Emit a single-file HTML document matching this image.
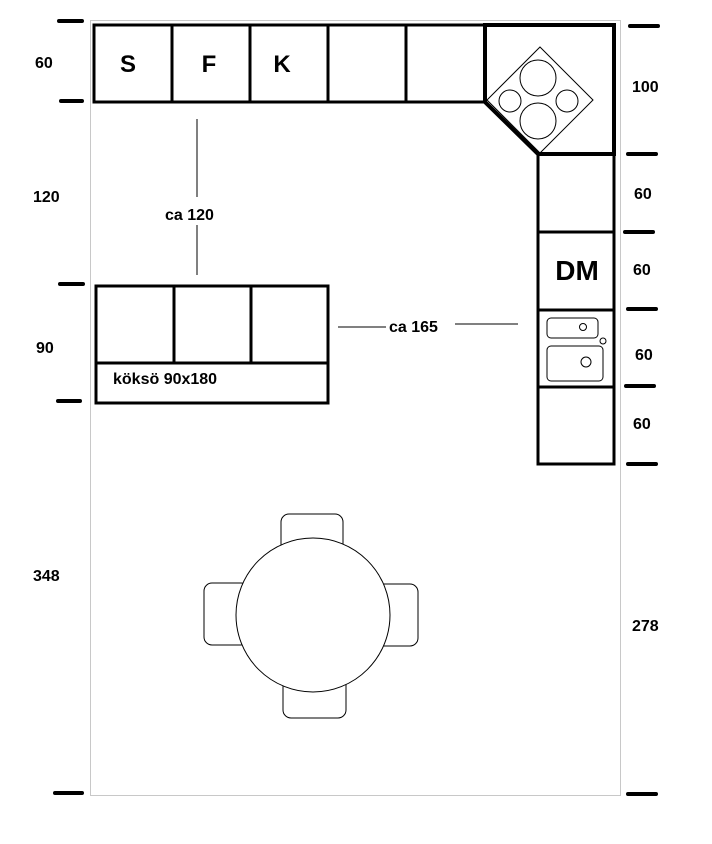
<!DOCTYPE html>
<html><head><style>body{margin:0;background:#fff}</style></head><body>
<svg width="712" height="839" xmlns="http://www.w3.org/2000/svg" font-family="Liberation Sans, sans-serif" font-weight="bold">
<rect x="90.5" y="20.5" width="530" height="775" fill="none" stroke="#c8c8c8" stroke-width="1"/>
<g stroke="#000" stroke-width="4" stroke-linecap="round">
<line x1="59" y1="21" x2="82" y2="21"/><line x1="61" y1="101" x2="82" y2="101"/>
<line x1="60" y1="284" x2="83" y2="284"/><line x1="58" y1="401" x2="80" y2="401"/>
<line x1="55" y1="793" x2="82" y2="793"/>
<line x1="630" y1="26" x2="658" y2="26"/><line x1="628" y1="154" x2="656" y2="154"/>
<line x1="625" y1="232" x2="653" y2="232"/><line x1="628" y1="309" x2="656" y2="309"/>
<line x1="626" y1="386" x2="654" y2="386"/><line x1="628" y1="464" x2="656" y2="464"/>
<line x1="628" y1="794" x2="656" y2="794"/>
</g>
<g stroke="#000" stroke-width="3" fill="none">
<rect x="94" y="25" width="391" height="77"/>
<line x1="172" y1="25" x2="172" y2="102"/><line x1="250" y1="25" x2="250" y2="102"/>
<line x1="328" y1="25" x2="328" y2="102"/><line x1="406" y1="25" x2="406" y2="102"/>
<path d="M485 25 H614 V154 H538 L485 102 Z" stroke-width="4"/>
<rect x="538" y="154" width="76" height="310"/>
<line x1="538" y1="232" x2="614" y2="232"/><line x1="538" y1="310" x2="614" y2="310"/><line x1="538" y1="387" x2="614" y2="387"/>
<rect x="96" y="286" width="232" height="117"/>
<line x1="174" y1="286" x2="174" y2="363"/><line x1="251" y1="286" x2="251" y2="363"/>
<line x1="96" y1="363" x2="328" y2="363"/>
</g>
<g stroke="#000" stroke-width="1" fill="none">
<path d="M540 47 L593 100 L540 153 L487 100 Z"/>
<circle cx="538" cy="78" r="18"/><circle cx="538" cy="121" r="18"/>
<circle cx="510" cy="101" r="11"/><circle cx="567" cy="101" r="11"/>
<rect x="547" y="318" width="51" height="20" rx="4"/>
<rect x="547" y="346" width="56" height="35" rx="4"/>
<circle cx="583" cy="327" r="3.5"/><circle cx="586" cy="362" r="5"/><circle cx="603" cy="341" r="3"/>
<line x1="197" y1="119" x2="197" y2="197"/><line x1="197" y1="225" x2="197" y2="275"/>
<line x1="338" y1="327" x2="386" y2="327"/><line x1="455" y1="324" x2="518" y2="324"/>
<rect x="281" y="514" width="62" height="40" rx="8"/>
<rect x="283" y="675" width="63" height="43" rx="8"/>
<rect x="204" y="583" width="45" height="62" rx="8"/>
<rect x="375" y="584" width="43" height="62" rx="8"/>
<circle cx="313" cy="615" r="77" fill="#fff"/>
</g>
<g font-size="24" text-anchor="middle">
<text x="128" y="72">S</text><text x="209" y="72">F</text><text x="282" y="72">K</text>
<text x="577" y="280" font-size="28">DM</text>
</g>
<g font-size="16">
<text x="35" y="68">60</text><text x="33" y="202">120</text><text x="36" y="353">90</text><text x="33" y="581">348</text>
<text x="632" y="92">100</text><text x="634" y="199">60</text><text x="633" y="275">60</text>
<text x="635" y="360">60</text><text x="633" y="429">60</text><text x="632" y="631">278</text>
<text x="165" y="220">ca 120</text><text x="389" y="332">ca 165</text>
<text x="113" y="384">köksö 90x180</text>
</g>
</svg>
</body></html>
